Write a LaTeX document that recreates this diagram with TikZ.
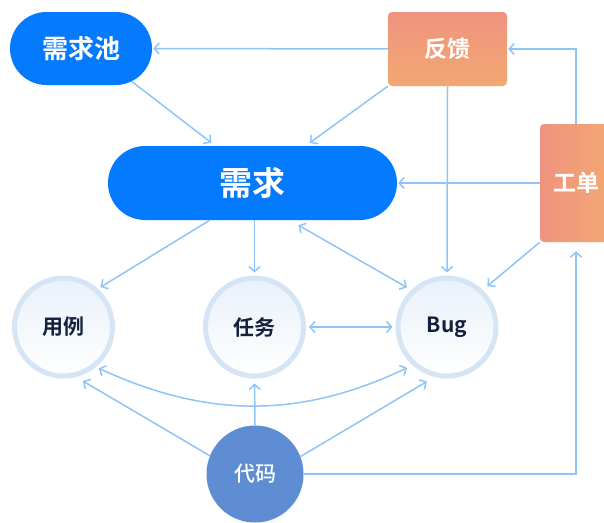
\documentclass[tikz,border=0pt]{standalone}
\usepackage{fontspec}
\usepackage{tikz}
\usetikzlibrary{arrows.meta,shapes.misc,shadows}
\newfontfamily\heavyfont{Noto Sans CJK SC Bold}
\newfontfamily\mediumfont{Noto Sans CJK SC Medium}
\definecolor{reqblue}{HTML}{047BFF}
\definecolor{codeblue}{HTML}{5E8DD3}
\definecolor{linkblue}{HTML}{8EC4F7}
\definecolor{ringblue}{HTML}{D6E5F5}
\definecolor{inkblue}{HTML}{14213D}
\definecolor{peachA}{HTML}{EF937F}
\definecolor{peachB}{HTML}{F3A872}

\begin{document}
\begin{tikzpicture}[x=1pt,y=-1pt,
	pill/.style={rounded rectangle, inner sep=0pt, fill=reqblue, text=white, font=\heavyfont\fontsize{26}{26}\selectfont},
	card/.style={rectangle, rounded corners=4pt, inner sep=0pt, text=white, font=\heavyfont\fontsize{23}{23}\selectfont},
	ball/.style={circle, minimum size=98pt, inner sep=0pt, line width=5pt, draw=ringblue, top color=ringblue!55, bottom color=white, text=inkblue, font=\heavyfont\fontsize{21}{21}\selectfont,
		circular drop shadow={shadow xshift=0pt, shadow yshift=-2pt, shadow scale=1.03, opacity=.12, fill=inkblue!60}},
	hub/.style={circle, minimum size=97pt, inner sep=0pt, fill=codeblue, text=white, font=\mediumfont\fontsize{21}{21}\selectfont,
		circular drop shadow={shadow xshift=0pt, shadow yshift=-2pt, shadow scale=1.03, opacity=.15, fill=inkblue!60}},
	link/.style={draw=linkblue, line width=1.5pt, -{Straight Barb[length=5pt,width=11pt]}, shorten >=3pt},
	twoway/.style={link, {Straight Barb[length=5pt,width=11pt]}-{Straight Barb[length=5pt,width=11pt]}, shorten <=3pt}
	]
	\useasboundingbox (0,0) rectangle (604,522);
	\clip (0,0) rectangle (604,522);
	\node[pill, minimum width=142pt, minimum height=73pt] (pool) at (81,48.5) {需求池};
	\node[pill, minimum width=289pt, minimum height=74pt, font=\heavyfont\fontsize{33}{33}\selectfont] (req) at (252.5,183) {需求};
	\node[card, minimum width=119pt, minimum height=74pt, top color=peachA, bottom color=peachB] (fb) at (447.5,49) {反馈};
	\node[card, minimum width=72pt, minimum height=118pt, left color=peachA, right color=peachB] (ticket) at (576,183) {工单};
	\node[ball] (case) at (63.5,327) {用例};
	\node[ball] (task) at (254.5,327) {任务};
	\node[ball] (bug) at (447,327) {Bug};
	\node[hub] (code) at (255,474) {代码};

	\draw[link, shorten >=1pt] (fb.west) -- (pool.east);
	\draw[link, shorten >=5pt] (pool.-33) -- (req.135);
	\draw[link, shorten >=5pt] (fb.south west) -- (req.35);
	\draw[link] (fb.south) -- (bug.north);
	\draw[link, shorten >=1pt] (ticket.north) |- (fb.east);
	\draw[link, shorten >=1pt] (ticket.west) -- (req.east);
	\draw[link, shorten >=6pt] (ticket.south west) -- (bug.46);
	\draw[link, shorten >=9pt] (code.east) -| (ticket.south);
	\draw[link] (req.221) -- (case.48);
	\draw[link] (task.north |- req.south) -- (task.north);
	\draw[twoway, shorten <=10pt, shorten >=5pt] (req.-45) -- (bug.134);
	\draw[twoway] (task.east) -- (bug.west);
	\draw[twoway, shorten >=6pt] (case.-51) to[bend right=25] (bug.-132);
	\draw[link, shorten >=8pt] (code.158) -- (case.-76);
	\draw[link, shorten >=5pt] (code.north) -- (task.south);
	\draw[link, shorten >=9pt] (code.21) -- (bug.-104);
\end{tikzpicture}
\end{document}
